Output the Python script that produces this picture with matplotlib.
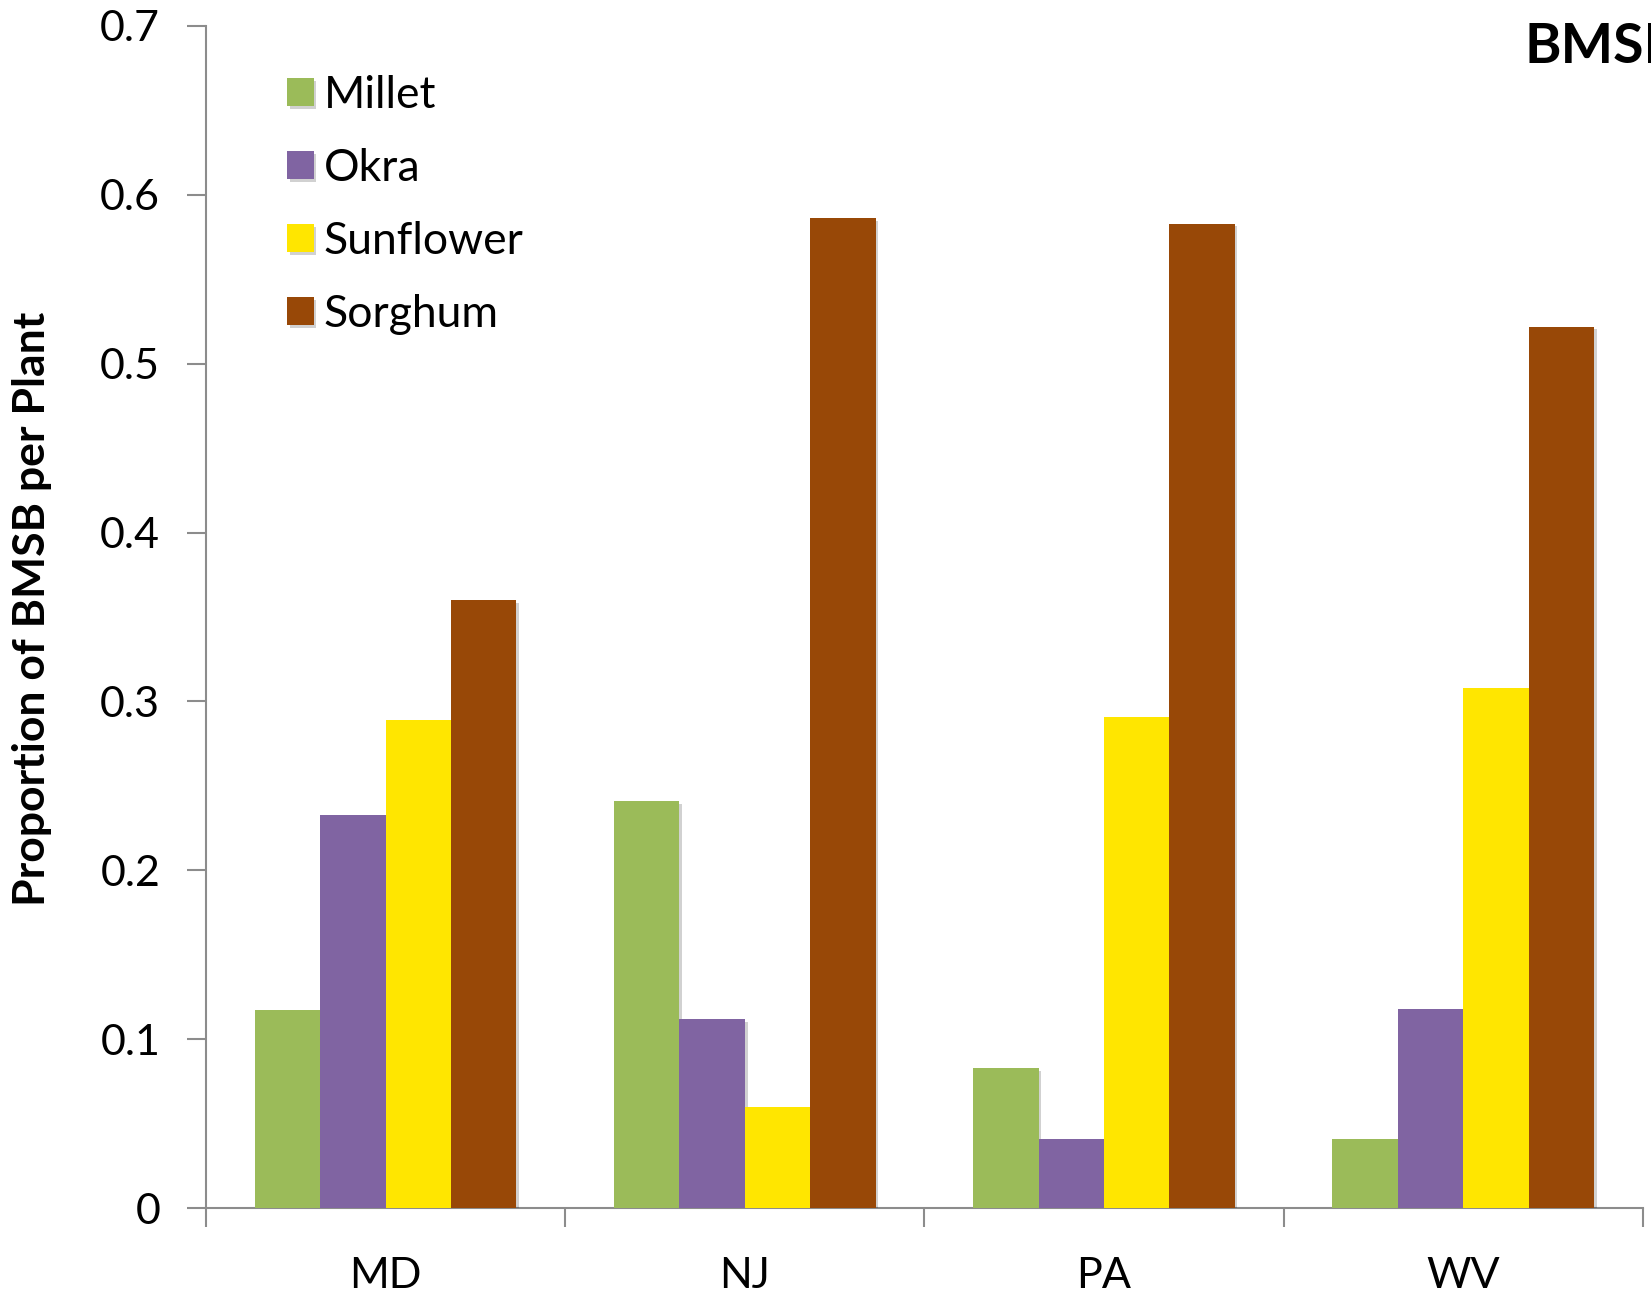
import matplotlib

matplotlib.use("Agg")
import matplotlib.pyplot as plt
import matplotlib.patheffects as pe
import numpy as np

plt.rcParams["font.family"] = ["Lato", "DejaVu Sans"]

STATES = ["MD", "NJ", "PA", "WV"]
PLANTS = ["Millet", "Okra", "Sunflower", "Sorghum"]
COLORS = ["#9bbb59", "#8064a2", "#ffe600", "#984807"]

# proportion of BMSB found on each plant, per state
millet = [0.117, 0.241, 0.083, 0.041]
okra = [0.233, 0.112, 0.041, 0.118]
sunflower = [0.289, 0.060, 0.291, 0.308]
sorghum = [0.360, 0.586, 0.583, 0.522]

SERIES = [millet, okra, sunflower, sorghum]
BAR_W = 0.182

fig = plt.figure(figsize=(16.51, 12.93), dpi=100)
ax = fig.add_axes([0.1248, 0.0657, 0.8702, 0.9142])

x = np.arange(len(STATES))
shadow = [pe.SimplePatchShadow(offset=(2, -2), shadow_rgbFace="black", alpha=0.18), pe.Normal()]
for i, (name, vals, col) in enumerate(zip(PLANTS, SERIES, COLORS)):
    bars = ax.bar(x + (i - 1.5) * BAR_W, vals, BAR_W, color=col, label=name, zorder=3)
    for b in bars:
        b.set_path_effects(shadow)

ax.set_xlim(-0.5, len(STATES) - 0.5)
ax.set_ylim(0, 0.7)
ax.set_yticks(np.arange(0, 0.71, 0.1))
ax.set_yticklabels(["0", "0.1", "0.2", "0.3", "0.4", "0.5", "0.6", "0.7"])

# category boundaries get the tick marks, names sit in between
ax.set_xticks(np.arange(-0.5, len(STATES), 1.0))
ax.set_xticklabels([])
ax.set_xticks(x, minor=True)
ax.set_xticklabels(STATES, minor=True)
ax.tick_params(axis="x", which="minor", length=0, labelsize=31, pad=35)
ax.tick_params(axis="x", which="major", length=14, width=1.5, color="#8c8c8c")
ax.tick_params(axis="y", length=14, width=1.5, color="#8c8c8c", labelsize=31, pad=19)

for side in ("top", "right"):
    ax.spines[side].set_visible(False)
for side in ("left", "bottom"):
    ax.spines[side].set_color("#8c8c8c")
    ax.spines[side].set_linewidth(1.5)

ax.set_ylabel("Proportion of BMSB per Plant", fontsize=32, fontweight="bold")
ax.yaxis.set_label_coords(-0.1075, 0.507)

leg = ax.legend(
    loc="upper left",
    bbox_to_anchor=(0.044, 0.974),
    frameon=False,
    fontsize=32,
    handlelength=0.6,
    handleheight=0.6,
    handletextpad=0.22,
    labelspacing=0.72,
    borderaxespad=0,
)

# heading runs off the right edge of the figure
fig.text(0.9232, 0.964, "BMSB", fontsize=40, fontweight="bold", ha="left", va="center")

fig.savefig("out.png", dpi=100)
